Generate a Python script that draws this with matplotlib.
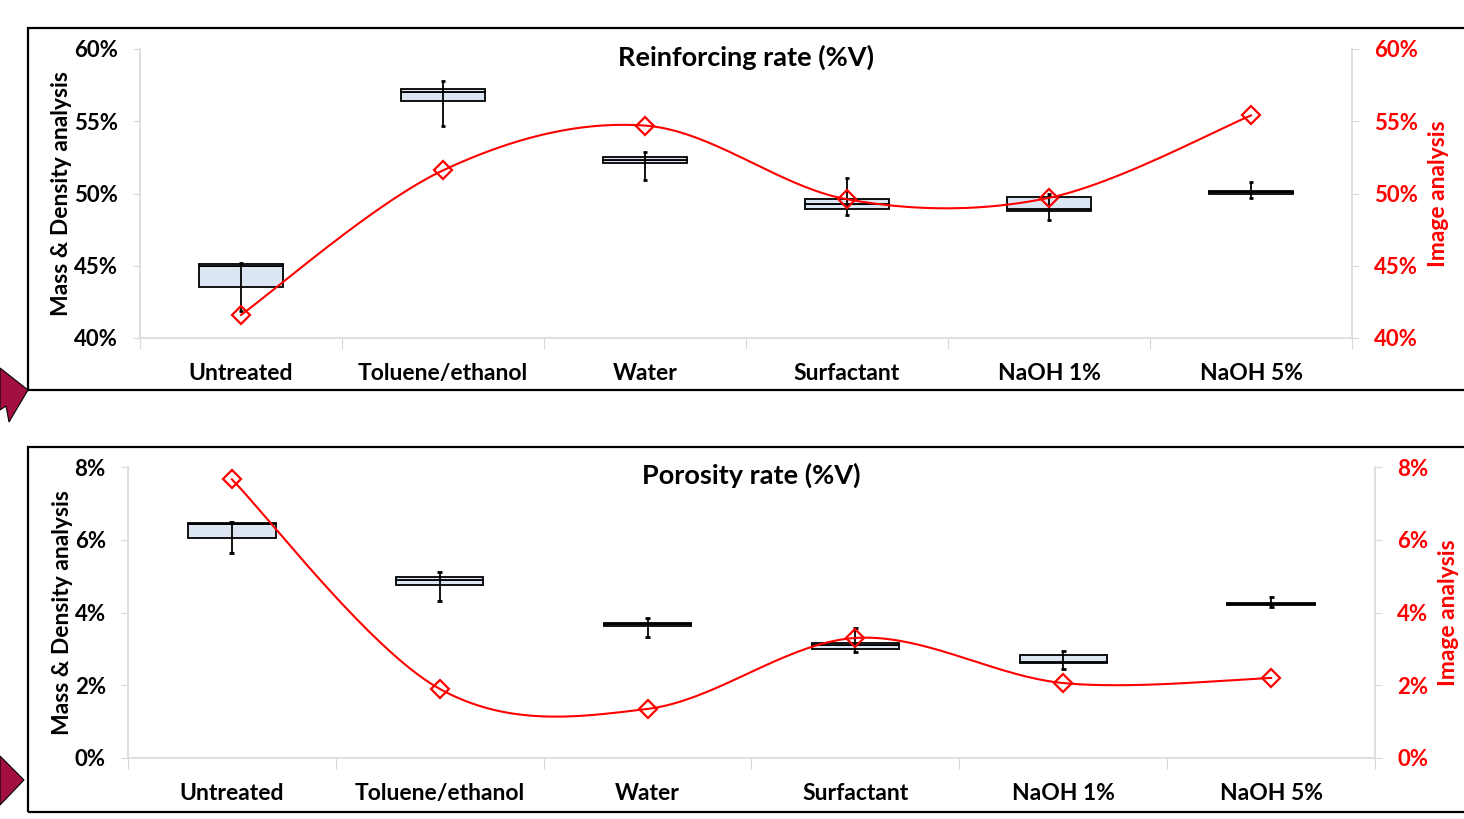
import numpy as np
import matplotlib.pyplot as plt
from matplotlib.patches import Polygon, Rectangle

plt.rcParams['font.family'] = ['Lato', 'DejaVu Sans']
plt.rcParams['font.weight'] = 'bold'

W, H = 1464, 819

categories = ["Untreated", "Toluene/ethanol", "Water", "Surfactant", "NaOH 1%", "NaOH 5%"]

# Reinforcing rate (%V) - mass & density box stats
reinf_min = [41.9, 54.7, 50.9, 48.5, 48.2, 49.7]
reinf_q1 = [43.5, 56.4, 52.1, 48.9, 48.8, 50.0]
reinf_med = [45.0, 57.0, 52.3, 49.3, 48.95, 50.1]
reinf_q3 = [45.1, 57.2, 52.5, 49.6, 49.75, 50.2]
reinf_max = [45.2, 57.8, 52.9, 51.1, 50.0, 50.8]
reinf_image = [41.6, 51.6, 54.7, 49.6, 49.7, 55.4]

# Porosity rate (%V)
poro_min = [5.63, 4.32, 3.33, 2.92, 2.46, 4.15]
poro_q1 = [6.05, 4.75, 3.63, 3.00, 2.61, 4.20]
poro_med = [6.42, 4.88, 3.68, 3.10, 2.65, 4.23]
poro_q3 = [6.45, 4.97, 3.72, 3.17, 2.84, 4.26]
poro_max = [6.50, 5.12, 3.85, 3.57, 2.94, 4.43]
poro_image = [7.66, 1.90, 1.35, 3.30, 2.06, 2.20]

reinf_ticks = [40, 45, 50, 55, 60]
poro_ticks = [0, 2, 4, 6, 8]

BOX_FILL = "#dce6f2"
SPINE = "#d9d9d9"
ARROW = "#a3103f"


def smooth(y, n=40):
    # uniform Catmull-Rom through the points (like Excel's smoothed line)
    y = np.asarray(y, dtype=float)
    x = np.arange(len(y), dtype=float)
    p = np.column_stack([x, y])
    pad = np.vstack([p[0], p, p[-1]])
    out = []
    for i in range(len(p) - 1):
        p0, p1, p2, p3 = pad[i], pad[i + 1], pad[i + 2], pad[i + 3]
        m1 = (p2 - p0) / 2
        m2 = (p3 - p1) / 2
        t = np.linspace(0, 1, n)[:, None]
        h00 = 2 * t**3 - 3 * t**2 + 1
        h10 = t**3 - 2 * t**2 + t
        h01 = -2 * t**3 + 3 * t**2
        h11 = t**3 - t**2
        out.append(h00 * p1 + h10 * m1 + h01 * p2 + h11 * m2)
    out = np.vstack(out)
    return out[:, 0], out[:, 1]


def panel(rect, title, vmin, q1, med, q3, vmax, image, ticks):
    ax = fig.add_axes(rect)
    x = np.arange(len(categories))
    ax.bar(x, np.subtract(med, q1), bottom=q1, width=0.42, color=BOX_FILL,
           edgecolor="black", linewidth=1.3, zorder=2)
    ax.bar(x, np.subtract(q3, med), bottom=med, width=0.42, color=BOX_FILL,
           edgecolor="black", linewidth=1.3, zorder=2)
    ax.vlines(x, vmin, vmax, color="black", linewidth=1.3, zorder=3)
    ax.hlines(vmin, x - 0.012, x + 0.012, color="black", linewidth=2, zorder=3)
    ax.hlines(vmax, x - 0.012, x + 0.012, color="black", linewidth=2, zorder=3)

    ax.set_xlim(-0.5, len(categories) - 0.5)
    ax.set_ylim(ticks[0], ticks[-1])
    ax.set_yticks(ticks)
    ax.set_yticklabels([f"{t}%" for t in ticks])
    ax.set_xticks(np.arange(-0.5, len(categories), 1.0))
    ax.set_xticklabels([])
    ax.set_xticks(x, minor=True)
    ax.set_xticklabels(categories, minor=True)
    ax.tick_params(axis="x", which="major", length=8, color=SPINE, direction="out")
    ax.tick_params(axis="x", which="minor", length=0, pad=18, labelsize=16.5)
    ax.tick_params(axis="y", length=5, color=SPINE, pad=11, labelsize=16)
    for s in ["top", "right"]:
        ax.spines[s].set_visible(False)
    for s in ["left", "bottom"]:
        ax.spines[s].set_color(SPINE)
        ax.spines[s].set_linewidth(1.2)
    ax.set_ylabel("Mass & Density analysis", fontsize=16.5, fontweight="bold", labelpad=1)
    ax.text(0.5, 0.972, title, transform=ax.transAxes, ha="center", va="center",
            fontsize=19.5, fontweight="bold")

    ax2 = ax.twinx()
    ax2.set_ylim(ticks[0], ticks[-1])
    ax2.set_yticks(ticks)
    ax2.set_yticklabels([f"{t}%" for t in ticks], color="red")
    ax2.tick_params(axis="y", length=5, color=SPINE, pad=11, labelsize=16)
    for s in ["top", "left", "bottom"]:
        ax2.spines[s].set_visible(False)
    ax2.spines["right"].set_color(SPINE)
    ax2.spines["right"].set_linewidth(1.2)
    ax2.set_ylabel("Image analysis", color="red", fontsize=16.5, fontweight="bold",
                   labelpad=7)

    sx, sy = smooth(image)
    ax2.plot(sx, sy, color="red", linewidth=1.5, zorder=4)
    ax2.plot(x, image, linestyle="none", marker="D", markersize=9,
             markerfacecolor="none", markeredgecolor="red", markeredgewidth=1.6, zorder=5)
    return ax


def px(pts):
    return [(a / W, 1 - b / H) for a, b in pts]


fig = plt.figure(figsize=(W / 100, H / 100), dpi=100)

# framing boxes and arrows on the left edge
fig.add_artist(Rectangle((28 / W, 1 - 390 / H), 1.0, 362 / H, transform=fig.transFigure,
                         fill=False, edgecolor="black", linewidth=1.6))
fig.add_artist(Rectangle((28 / W, 1 - 812 / H), 1.0, 365 / H, transform=fig.transFigure,
                         fill=False, edgecolor="black", linewidth=1.6))
fig.add_artist(Polygon(px([(0, 368), (28, 390), (9, 422), (6, 406), (0, 410)]),
                       closed=True, transform=fig.transFigure, facecolor=ARROW,
                       edgecolor="black", linewidth=0.8))
fig.add_artist(Polygon(px([(0, 756), (24, 780), (0, 805)]),
                       closed=True, transform=fig.transFigure, facecolor=ARROW,
                       edgecolor="black", linewidth=0.8))

panel([140 / W, 1 - 338 / H, (1352 - 140) / W, (338 - 49) / H], "Reinforcing rate (%V)",
      reinf_min, reinf_q1, reinf_med, reinf_q3, reinf_max, reinf_image, reinf_ticks)
panel([128 / W, 1 - 758 / H, (1375 - 128) / W, (758 - 467) / H], "Porosity rate (%V)",
      poro_min, poro_q1, poro_med, poro_q3, poro_max, poro_image, poro_ticks)

fig.savefig("out.png", dpi=100)
